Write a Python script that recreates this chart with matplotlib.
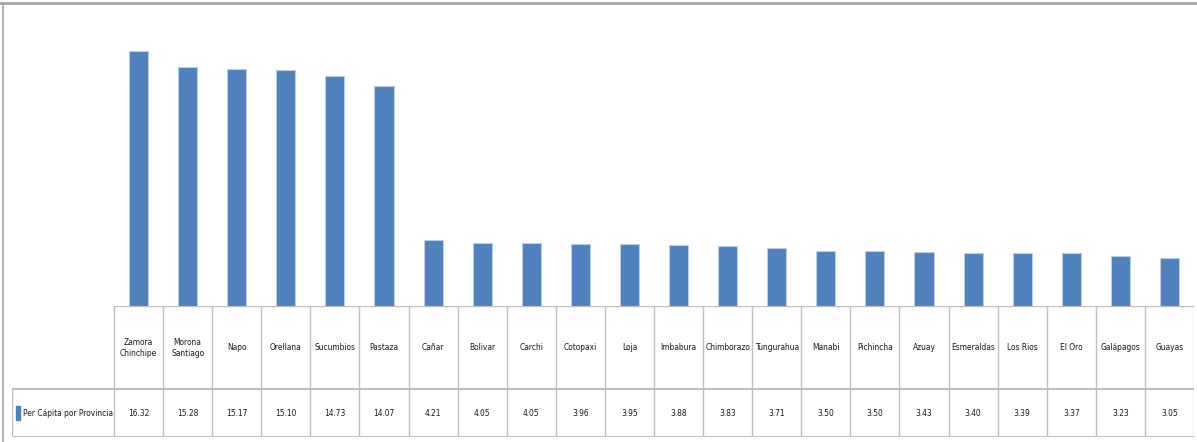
import matplotlib.pyplot as plt
from matplotlib import font_manager
from matplotlib.font_manager import FontProperties
from matplotlib.lines import Line2D
from matplotlib.patches import Rectangle

provincias = ['Zamora\nChinchipe', 'Morona\nSantiago', 'Napo', 'Orellana', 'Sucumbios',
              'Pastaza', 'Cañar', 'Bolivar', 'Carchi', 'Cotopaxi', 'Loja', 'Imbabura',
              'Chimborazo', 'Tungurahua', 'Manabi', 'Pichincha', 'Azuay', 'Esmeraldas',
              'Los Rios', 'El Oro', 'Galápagos', 'Guayas']
per_capita = [16.32, 15.28, 15.17, 15.10, 14.73, 14.07, 4.21, 4.05, 4.05, 3.96, 3.95,
              3.88, 3.83, 3.71, 3.50, 3.50, 3.43, 3.40, 3.39, 3.37, 3.23, 3.05]
serie = 'Per Cápita por Provincia'

W, H = 1197, 442
azul = '#4F81BD'
gris = '#BFBFBF'
texto = '#1a1a1a'

# buscar una fuente estrecha si existe
fuente = None
for f in font_manager.fontManager.ttflist:
    if f.name == 'Liberation Sans Narrow':
        fuente = FontProperties(fname=f.fname)
        break
if fuente is None:
    for f in font_manager.fontManager.ttflist:
        if f.name == 'DejaVu Sans' and 'Condensed' in f.fname and f.weight in (400, 'normal') \
                and f.style == 'normal':
            fuente = FontProperties(fname=f.fname)
            break
if fuente is None:
    fuente = FontProperties(family='DejaVu Sans')

fig = plt.figure(figsize=(W / 100, H / 100), dpi=100)

def caja(x0, y0, x1, y1):
    return [x0 / W, 1 - y1 / H, (x1 - x0) / W, (y1 - y0) / H]

n = len(provincias)
xs = list(range(n))

# barras
ax = fig.add_axes(caja(114, 25, 1194, 306))
ax.bar(xs, per_capita, width=0.39, color=azul, edgecolor='#B9CDE5', linewidth=0.8)
ax.set_xlim(-0.5, n - 0.5)
ax.set_ylim(0, 18)
ax.axis('off')

# tabla de datos
celda = (1194 - 114) / n
izq = -0.5 - (114 - 12) / celda
tb = fig.add_axes(caja(12, 306, 1194, 437))
tb.set_xlim(izq, n - 0.5)
tb.set_ylim(131, 0)
tb.axis('off')

tb.plot([-0.5, n - 0.5], [0, 0], color=gris, lw=1)
tb.plot([izq, n - 0.5], [83, 83], color=gris, lw=1.5)
tb.plot([izq, n - 0.5], [130.5, 130.5], color=gris, lw=1.5)
tb.plot([izq, izq], [83, 131], color=gris, lw=1)
for i in range(n + 1):
    tb.plot([i - 0.5, i - 0.5], [0, 131], color=gris, lw=1)

etiquetas = []
for i, (p, v) in enumerate(zip(provincias, per_capita)):
    etiquetas.append(tb.text(i, 42, p, ha='center', va='center', fontproperties=fuente,
                             color=texto, linespacing=1.4))
    etiquetas.append(tb.text(i, 107, f'{v:.2f}', ha='center', va='center',
                             fontproperties=fuente, color=texto))

tb.add_patch(Rectangle((izq + 0.08, 100), 0.09, 14, color=azul))
leyenda = tb.text(izq + 0.22, 107, serie, ha='left', va='center', fontproperties=fuente,
                  color=texto)

# ajustar el tamaño de letra para que quepa en las celdas
r = fig.canvas.get_renderer()
tam = 11.0
while tam > 5:
    for t in etiquetas + [leyenda]:
        t.set_fontsize(tam)
    ancho = max(t.get_window_extent(r).width for t in etiquetas)
    if ancho <= celda - 3 and leyenda.get_window_extent(r).width <= 90:
        break
    tam -= 0.25

# marco del gráfico
fig.add_artist(Line2D([0, 1], [1 - 2.5 / H, 1 - 2.5 / H], color='#A6A6A6', lw=2))
fig.add_artist(Line2D([2.5 / W, 2.5 / W], [1 - 2.5 / H, 0], color='#A6A6A6', lw=1.2))

fig.savefig('out.png', dpi=100)
